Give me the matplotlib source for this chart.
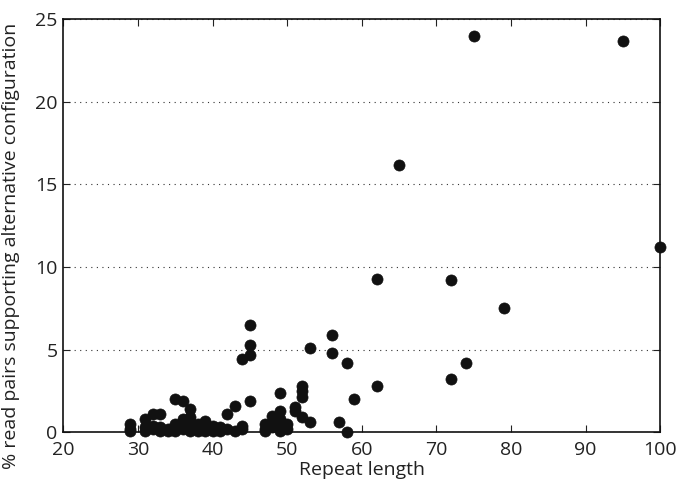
import matplotlib

matplotlib.use("Agg")
import matplotlib.pyplot as plt

# repeat length -> % read pairs supporting the alternative configuration
repeat_length = [
    29, 29, 29,
    31, 31, 31,
    32, 32, 32,
    33, 33, 33,
    34, 34,
    35, 35, 35, 35,
    36, 36, 36, 36,
    37, 37, 37, 37, 37,
    38, 38, 38,
    39, 39, 39,
    40, 40,
    41, 41,
    42, 42,
    43, 43,
    44, 44, 44,
    45, 45, 45, 45,
    47, 47, 47,
    48, 48, 48,
    49, 49, 49, 49, 49,
    50, 50,
    51, 51,
    52, 52, 52, 52,
    53, 53,
    56, 56,
    57,
    58, 58,
    59,
    62, 62,
    65,
    72, 72,
    74,
    75,
    79,
    95,
    100,
]
pct_alt = [
    0.5, 0.2, 0.05,
    0.8, 0.3, 0.1,
    1.1, 0.2, 0.4,
    1.1, 0.1, 0.3,
    0.2, 0.1,
    2.0, 0.3, 0.1, 0.5,
    1.9, 0.8, 0.5, 0.2,
    1.4, 0.9, 0.6, 0.3, 0.1,
    0.5, 0.2, 0.1,
    0.7, 0.3, 0.1,
    0.4, 0.1,
    0.3, 0.1,
    1.1, 0.2,
    1.6, 0.1,
    4.4, 0.4, 0.2,
    6.5, 5.3, 4.7, 1.9,
    0.5, 0.2, 0.1,
    1.0, 0.6, 0.3,
    2.4, 1.3, 0.8, 0.4, 0.1,
    0.5, 0.2,
    1.5, 1.3,
    2.8, 2.5, 2.1, 0.9,
    5.1, 0.6,
    5.9, 4.8,
    0.6,
    4.2, 0.0,
    2.0,
    9.3, 2.8,
    16.2,
    9.2, 3.2,
    4.2,
    24.0,
    7.5,
    23.7,
    11.2,
]

x_ticks = [20, 30, 40, 50, 60, 70, 80, 90, 100]
y_ticks = [0, 5, 10, 15, 20, 25]

plt.rcParams["font.family"] = ["Open Sans", "DejaVu Sans"]

fig = plt.figure(figsize=(6.8, 4.9), dpi=100)
ax = fig.add_axes([0.093, 0.118, 0.878, 0.843])

ax.scatter(repeat_length, pct_alt, s=64, color="#111111", edgecolors="#111111",
           linewidths=0.5, zorder=3, clip_on=False)

ax.set_xlim(20, 100)
ax.set_ylim(0, 25)
ax.set_xticks(x_ticks)
ax.set_yticks(y_ticks)
ax.tick_params(direction="in", top=True, right=True, length=5, width=0.8,
               labelsize=14, colors="#222222")
ax.tick_params(axis="x", pad=6)
ax.tick_params(axis="y", pad=4)
ax.yaxis.grid(True, linestyle=(0, (1, 4)), color="#333333", linewidth=0.8)
ax.set_axisbelow(True)
for sp in ax.spines.values():
    sp.set_linewidth(1.2)
    sp.set_color("#111111")

ax.set_xlabel("Repeat length", fontsize=14, color="#222222", labelpad=2)
ax.set_ylabel("% read pairs supporting alternative configuration", fontsize=14,
              color="#222222")
ax.yaxis.set_label_coords(-0.072, 0.45)

fig.savefig("out.png", dpi=100)
plt.close(fig)
